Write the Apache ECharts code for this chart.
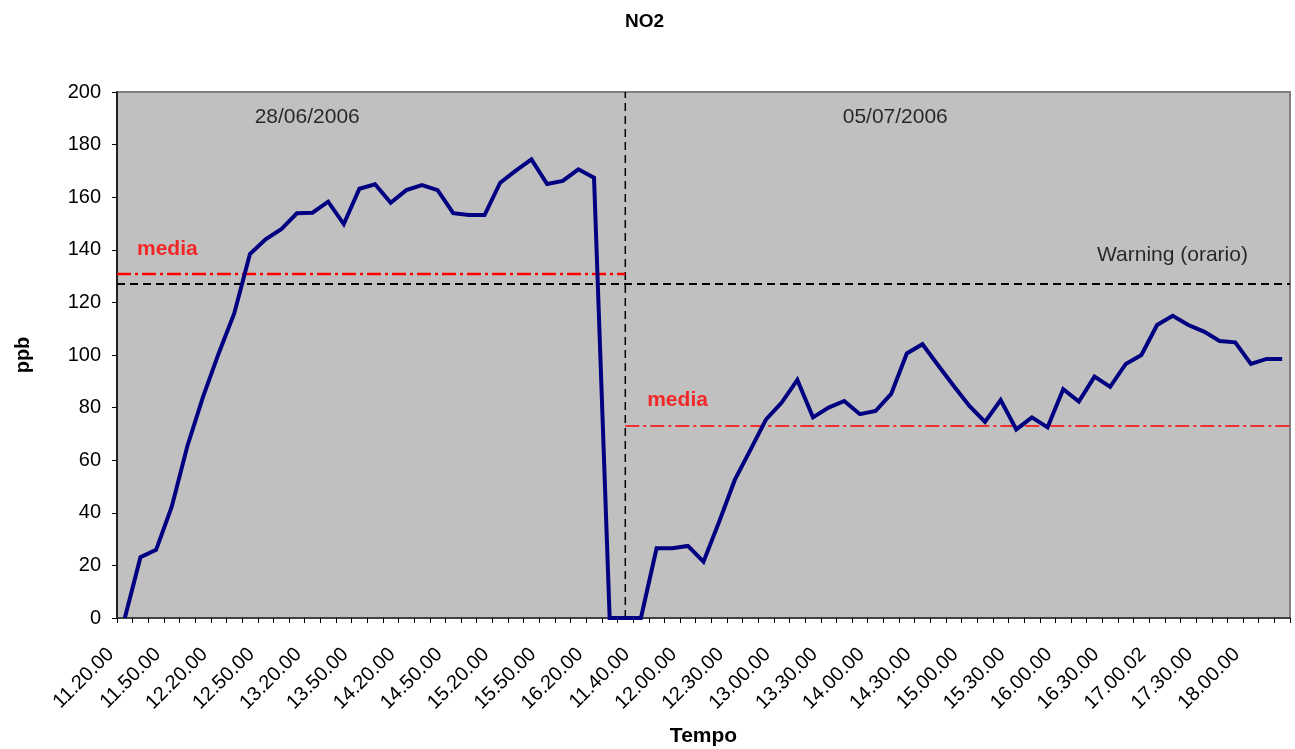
<!DOCTYPE html>
<html>
<head>
<meta charset="utf-8">
<script src="https://cdn.jsdelivr.net/npm/echarts@6/dist/echarts.min.js"></script>
<style>
html,body{margin:0;padding:0;background:#fff;}
#chart{width:1295px;height:749px;}
</style>
</head>
<body>
<div id="chart"></div>
<script>
// ---- Data ----
const categories = [
  '11.20.00','11.30.00','11.40.00','11.50.00','12.00.00','12.10.00','12.20.00','12.30.00','12.40.00','12.50.00',
  '13.00.00','13.10.00','13.20.00','13.30.00','13.40.00','13.50.00','14.00.00','14.10.00','14.20.00','14.30.00',
  '14.40.00','14.50.00','15.00.00','15.10.00','15.20.00','15.30.00','15.40.00','15.50.00','16.00.00','16.10.00',
  '16.20.00','16.30.00','16.40.00',
  '11.40.00','11.47.00','11.53.00','12.00.00','12.10.00','12.20.00','12.30.00','12.40.00','12.50.00','13.00.00',
  '13.10.00','13.20.00','13.30.00','13.40.00','13.50.00','14.00.00','14.10.00','14.20.00','14.30.00','14.40.00',
  '14.50.00','15.00.00','15.10.00','15.20.00','15.30.00','15.40.00','15.50.00','16.00.00','16.10.00','16.20.00',
  '16.30.00','16.40.00','16.50.00','17.00.02','17.10.00','17.20.00','17.30.00','17.40.00','17.50.00','18.00.00',
  '18.10.00','18.20.00'
];
const no2 = [
  0, 23.1, 25.9, 42.3, 65.4, 84.1, 100.6, 115.9, 138.4, 144,
  147.8, 153.9, 154.1, 158.3, 149.8, 163.2, 164.9, 157.9, 162.7, 164.6,
  162.7, 153.9, 153.2, 153.2, 165.5, 170.1, 174.4, 165, 166.2, 170.6,
  167.4, 0, 0,
  0, 26.5, 26.5, 27.4, 21.4, 36.6, 52.5, 63.9, 75.5, 81.9, 90.5,
  76.3, 80, 82.5, 77.5, 78.7, 85.2, 100.6, 104.1, 96.1, 88.2,
  80.6, 74.6, 82.9, 71.7, 76.3, 72.5, 87, 82.3, 91.8, 87.9,
  96.6, 100, 111.4, 114.9, 111.4, 108.9, 105.3, 104.8, 96.6, 98.5,
  98.5
];
const yTicks = { min: 0, max: 200, interval: 20 };
const warningLevel = 127;          // Warning (orario)
const mediaDay1 = 130.8;           // media 28/06/2006
const mediaDay2 = 73;              // media 05/07/2006
const daySplit = 32.5;             // separator between the two days (in category units)
const nCat = 75;
// annotation texts: [x (category units), y (ppb), text]
const mediaLabels = [[1.28, 140.3, 'media'], [33.9, 83, 'media']];
const dateLabels = [[8.8, 190.3, '28/06/2006'], [46.4, 190.3, '05/07/2006']];
const warningLabel = [[62.66, 138, 'Warning (orario)']];

// ---- Chart ----
const FONT = "'Liberation Sans', Arial, sans-serif";
const chart = echarts.init(document.getElementById('chart'), null, { renderer: 'canvas' });

function refLine(points, color, width, dash, z) {
  return {
    type: 'line', xAxisIndex: 1, yAxisIndex: 0, data: points, symbol: 'none', silent: true, z: z,
    lineStyle: { color: color, width: width, type: dash }, animation: false
  };
}
function textSeries(items, color, size, weight) {
  return {
    type: 'scatter', xAxisIndex: 1, yAxisIndex: 0, symbolSize: 0, silent: true, z: 5,
    data: items.map(d => ({ value: [d[0], d[1]], name: d[2] })),
    label: {
      show: true, position: 'right', distance: 0, formatter: p => p.name,
      color: color, fontSize: size, fontWeight: weight, fontFamily: FONT
    },
    animation: false
  };
}

chart.setOption({
  animation: false,
  backgroundColor: '#ffffff',
  title: {
    text: 'NO2', left: 620, top: 7,
    textStyle: { fontSize: 19, fontWeight: 'bold', color: '#000', fontFamily: FONT }
  },
  grid: {
    left: 117, right: 5, top: 92, bottom: 131, containLabel: false, outerBoundsMode: 'none',
    show: true, backgroundColor: '#c0c0c0', borderColor: '#808080', borderWidth: 2
  },
  xAxis: [{
    type: 'category', data: categories, boundaryGap: true,
    name: 'Tempo', nameLocation: 'middle', nameGap: 108,
    nameTextStyle: { fontSize: 21, fontWeight: 'bold', color: '#000', fontFamily: FONT },
    axisLine: { show: true, lineStyle: { color: '#404040', width: 2 } },
    axisTick: { show: true, interval: 0, length: 5, lineStyle: { color: '#000', width: 1 } },
    axisLabel: { interval: 2, rotate: 45, margin: 19, padding: [0, 20, 0, 0], fontSize: 20, color: '#000', fontFamily: FONT },
    splitLine: { show: false }
  }, {
    type: 'value', min: 0, max: nCat, show: false, gridIndex: 0
  }],
  yAxis: {
    type: 'value', min: yTicks.min, max: yTicks.max, interval: yTicks.interval,
    name: 'ppb', nameLocation: 'middle', nameGap: 84, nameRotate: 90,
    nameTextStyle: { fontSize: 20, fontWeight: 'bold', color: '#000', fontFamily: FONT },
    axisLine: { show: true, lineStyle: { color: '#000', width: 1.5 } },
    axisTick: { show: true, length: 5, lineStyle: { color: '#000', width: 1 } },
    axisLabel: { margin: 16, fontSize: 20, color: '#000', fontFamily: FONT },
    splitLine: { show: false }
  },
  series: [
    refLine([[0, warningLevel], [nCat, warningLevel]], '#000', 2, [8, 5], 1),
    refLine([[daySplit, yTicks.min], [daySplit, yTicks.max]], '#000', 1.5, [8, 5], 1),
    refLine([[0, mediaDay1], [daySplit, mediaDay1]], '#ff0000', 2.5, [14, 4, 3, 4], 2),
    refLine([[daySplit, mediaDay2], [nCat, mediaDay2]], '#ff0000', 1.5, [14, 4, 3, 4], 2),
    {
      type: 'line', name: 'NO2', data: no2, xAxisIndex: 0, yAxisIndex: 0,
      symbol: 'none', z: 3, silent: true,
      lineStyle: { color: '#000080', width: 4, join: 'miter' }, animation: false
    },
    textSeries(mediaLabels, '#ff0000', 21, 'bold'),
    textSeries(dateLabels, '#000', 21, 'normal'),
    textSeries(warningLabel, '#000', 21, 'normal')
  ]
});
</script>
</body>
</html>
